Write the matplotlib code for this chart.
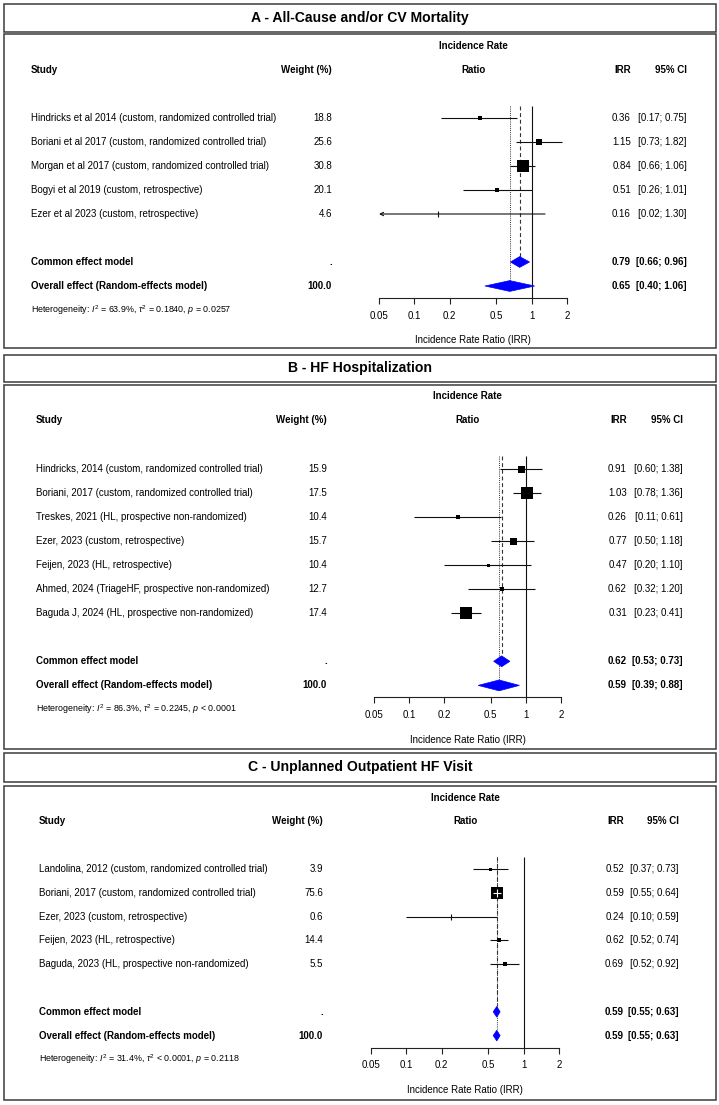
import numpy as np
import matplotlib
matplotlib.use("Agg")
import matplotlib.pyplot as plt
import matplotlib.transforms as mtransforms
from matplotlib.patches import Rectangle, Polygon

plt.rcParams['font.family'] = ['Liberation Sans', 'DejaVu Sans']
plt.rcParams['mathtext.fontset'] = 'custom'
plt.rcParams['mathtext.rm'] = 'Liberation Sans'
plt.rcParams['mathtext.it'] = 'Liberation Sans:italic'
plt.rcParams['mathtext.bf'] = 'Liberation Sans:bold'

W, H = 719, 1105

# ---------------- data ----------------
x_ticks = [0.05, 0.1, 0.2, 0.5, 1, 2]
x_tick_labels = ["0.05", "0.1", "0.2", "0.5", "1", "2"]

a_title = "A - All-Cause and/or CV Mortality"
a_studies = ["Hindricks et al 2014 (custom, randomized controlled trial)",
             "Boriani et al 2017 (custom, randomized controlled trial)",
             "Morgan et al 2017 (custom, randomized controlled trial)",
             "Bogyi et al 2019 (custom, retrospective)",
             "Ezer et al 2023 (custom, retrospective)"]
a_weights = [18.8, 25.6, 30.8, 20.1, 4.6]
a_irr = [0.36, 1.15, 0.84, 0.51, 0.16]
a_lo = [0.17, 0.73, 0.66, 0.26, 0.02]
a_hi = [0.75, 1.82, 1.06, 1.01, 1.30]
a_common = [0.79, 0.66, 0.96]
a_random = [0.65, 0.40, 1.06]
a_het = r"Heterogeneity: $I^2$ = 63.9%, $\tau^2$ = 0.1840, $p$ = 0.0257"

b_title = "B - HF Hospitalization"
b_studies = ["Hindricks, 2014 (custom, randomized controlled trial)",
             "Boriani, 2017 (custom, randomized controlled trial)",
             "Treskes, 2021 (HL, prospective non-randomized)",
             "Ezer, 2023 (custom, retrospective)",
             "Feijen, 2023 (HL, retrospective)",
             "Ahmed, 2024 (TriageHF, prospective non-randomized)",
             "Baguda J, 2024 (HL, prospective non-randomized)"]
b_weights = [15.9, 17.5, 10.4, 15.7, 10.4, 12.7, 17.4]
b_irr = [0.91, 1.03, 0.26, 0.77, 0.47, 0.62, 0.31]
b_lo = [0.60, 0.78, 0.11, 0.50, 0.20, 0.32, 0.23]
b_hi = [1.38, 1.36, 0.61, 1.18, 1.10, 1.20, 0.41]
b_common = [0.62, 0.53, 0.73]
b_random = [0.59, 0.39, 0.88]
b_het = r"Heterogeneity: $I^2$ = 86.3%, $\tau^2$ = 0.2245, $p$ < 0.0001"

c_title = "C - Unplanned Outpatient HF Visit"
c_studies = ["Landolina, 2012 (custom, randomized controlled trial)",
             "Boriani, 2017 (custom, randomized controlled trial)",
             "Ezer, 2023 (custom, retrospective)",
             "Feijen, 2023 (HL, retrospective)",
             "Baguda, 2023 (HL, prospective non-randomized)"]
c_weights = [3.9, 75.6, 0.6, 14.4, 5.5]
c_irr = [0.52, 0.59, 0.24, 0.62, 0.69]
c_lo = [0.37, 0.55, 0.10, 0.52, 0.52]
c_hi = [0.73, 0.64, 0.59, 0.74, 0.92]
c_common = [0.59, 0.55, 0.63]
c_random = [0.59, 0.55, 0.63]
c_het = r"Heterogeneity: $I^2$ = 31.4%, $\tau^2$ < 0.0001, $p$ = 0.2118"

# ---------------- style / layout (pixels) ----------------
a_box_px = [4, 6, 12, 4, 0]
b_box_px = [7, 12, 3.5, 7, 3, 4, 12]
c_box_px = [3, 12, 0, 4.5, 3.5]

panels = [
    dict(title=a_title, studies=a_studies, weights=a_weights, irr=a_irr, lo=a_lo, hi=a_hi,
         common=a_common, random=a_random, het=a_het, box=a_box_px,
         tbox=(4, 31.5), pbox=(33.5, 348), ttl_y=18, row0=118, dy=24,
         xs=31, xw=332, xirr=631, xci=687, x0=379, x1=567),
    dict(title=b_title, studies=b_studies, weights=b_weights, irr=b_irr, lo=b_lo, hi=b_hi,
         common=b_common, random=b_random, het=b_het, box=b_box_px,
         tbox=(355, 382), pbox=(385, 749), ttl_y=368.5, row0=468.5, dy=24.1,
         xs=36, xw=327, xirr=627, xci=683, x0=374, x1=561),
    dict(title=c_title, studies=c_studies, weights=c_weights, irr=c_irr, lo=c_lo, hi=c_hi,
         common=c_common, random=c_random, het=c_het, box=c_box_px,
         tbox=(753, 782), pbox=(786, 1100), ttl_y=767.5, row0=869, dy=23.8,
         xs=39, xw=323, xirr=624, xci=679, x0=371, x1=559),
]

FS = 7
HET_FS = 6.4
BORDER = '#3c3c3c'
BLUE = '#0000ff'

fig = plt.figure(figsize=(W / 100, H / 100), dpi=100)
px_x = mtransforms.Affine2D().scale(1.0 / W, 1.0) + fig.transFigure


def frame(x0, x1, y0, y1):
    fig.patches.append(Rectangle((x0 / W, 1 - y1 / H), (x1 - x0) / W, (y1 - y0) / H,
                                 transform=fig.transFigure, fill=False,
                                 edgecolor=BORDER, linewidth=1.1))


for p in panels:
    n = len(p['studies'])
    r_common = n + 1
    r_random = n + 2
    r_axis = n + 2.5
    r_top = -3.5
    dy, row0 = p['dy'], p['row0']

    frame(4, 716, *p['tbox'])
    frame(4, 716, *p['pbox'])
    fig.text(360 / W, 1 - p['ttl_y'] / H, p['title'], ha='center', va='center',
             fontsize=10.1, fontweight='bold')

    ytop_px = row0 + dy * r_top
    ybot_px = row0 + dy * r_axis
    ax = fig.add_axes([p['x0'] / W, 1 - ybot_px / H, (p['x1'] - p['x0']) / W,
                       (ybot_px - ytop_px) / H])
    ax.set_xscale('log')
    ax.set_xlim(0.05, 2)
    ax.set_ylim(r_axis, r_top)
    ax.patch.set_visible(False)
    for s in ['top', 'left', 'right']:
        ax.spines[s].set_visible(False)
    ax.spines['bottom'].set_linewidth(0.8)
    ax.spines['bottom'].set_color('#222222')
    ax.set_yticks([])
    ax.set_xticks(x_ticks)
    ax.set_xticklabels(x_tick_labels)
    ax.minorticks_off()
    ax.tick_params(axis='x', direction='out', length=4.3, width=0.8, pad=5,
                   labelsize=FS, color='#222222')
    ax.set_xlabel("Incidence Rate Ratio (IRR)", fontsize=FS, labelpad=10.5)

    tr = mtransforms.blended_transform_factory(px_x, ax.transData)

    # headers
    cx = np.sqrt(0.05 * 2)
    ax.text(cx, -3, "Incidence Rate", ha='center', va='center', fontsize=FS,
            fontweight='bold')
    ax.text(cx, -2, "Ratio", ha='center', va='center', fontsize=FS, fontweight='bold')
    ax.text(p['xs'], -2, "Study", transform=tr, ha='left', va='center', fontsize=FS,
            fontweight='bold')
    ax.text(p['xw'], -2, "Weight (%)", transform=tr, ha='right', va='center',
            fontsize=FS, fontweight='bold')
    ax.text(p['xirr'], -2, "IRR", transform=tr, ha='right', va='center', fontsize=FS,
            fontweight='bold')
    ax.text(p['xci'], -2, "95% CI", transform=tr, ha='right', va='center', fontsize=FS,
            fontweight='bold')

    # reference lines
    h = 0.225
    ax.vlines(1, -0.5, r_axis, color='#111111', lw=0.8, clip_on=False)
    ax.plot([p['common'][0]] * 2, [-0.5, r_common - h], color='#333333', lw=0.8,
            linestyle=(0, (3.5, 2.5)), clip_on=False)
    ax.plot([p['random'][0]] * 2, [-0.5, r_random - h], color='#333333', lw=0.7,
            linestyle=(0, (1, 1.2)), clip_on=False)

    # studies
    for i in range(n):
        name, w = p['studies'][i], p['weights'][i]
        est, lo, hi = p['irr'][i], p['lo'][i], p['hi'][i]
        ax.text(p['xs'], i, name, transform=tr, ha='left', va='center', fontsize=FS)
        ax.text(p['xw'], i, f"{w:.1f}", transform=tr, ha='right', va='center', fontsize=FS)
        ax.text(p['xirr'], i, f"{est:.2f}", transform=tr, ha='right', va='center',
                fontsize=FS)
        ax.text(p['xci'], i, f"[{lo:.2f}; {hi:.2f}]", transform=tr, ha='right',
                va='center', fontsize=FS)
        if lo < 0.05:
            ax.annotate('', xy=(0.05, i), xytext=(hi, i), xycoords='data',
                        arrowprops=dict(arrowstyle='->', lw=0.8, color='#111111',
                                        mutation_scale=6, shrinkA=0, shrinkB=0),
                        annotation_clip=False)
        else:
            ax.hlines(i, lo, hi, color='#111111', lw=0.8, clip_on=False)
        side = p['box'][i]
        if side <= 0:
            ax.plot([est], [i], marker='|', markersize=4.0, mew=0.8, color='#111111',
                    clip_on=False)
        else:
            ax.plot([est], [i], marker='s', markersize=side * 0.72, mew=0,
                    color='black', clip_on=False, zorder=3)
            ci_px = (p['x1'] - p['x0']) * np.log10(hi / lo) / np.log10(2 / 0.05)
            if ci_px < side:
                ax.hlines(i, lo, hi, color='white', lw=0.8, zorder=4, clip_on=False)
                ax.plot([est], [i], marker='|', markersize=side * 0.72 * 0.6, mew=0.8,
                        color='white', zorder=4, clip_on=False)

    # summaries
    for r, lab, (est, lo, hi), wtxt in [(r_common, "Common effect model", p['common'], "."),
                                       (r_random, "Overall effect (Random-effects model)",
                                        p['random'], "100.0")]:
        ax.text(p['xs'], r, lab, transform=tr, ha='left', va='center', fontsize=FS,
                fontweight='bold')
        ax.text(p['xw'], r, wtxt, transform=tr, ha='right', va='center', fontsize=FS,
                fontweight='bold')
        ax.text(p['xirr'], r, f"{est:.2f}", transform=tr, ha='right', va='center',
                fontsize=FS, fontweight='bold')
        ax.text(p['xci'], r, f"[{lo:.2f}; {hi:.2f}]", transform=tr, ha='right',
                va='center', fontsize=FS, fontweight='bold')
        ax.add_patch(Polygon([(lo, r), (est, r - h), (hi, r), (est, r + h)], closed=True,
                             facecolor=BLUE, edgecolor=BLUE, lw=0.5, clip_on=False,
                             zorder=3))

    ax.text(p['xs'], n + 3, p['het'], transform=tr, ha='left', va='center',
            fontsize=HET_FS)

fig.savefig("out.png", dpi=100)
